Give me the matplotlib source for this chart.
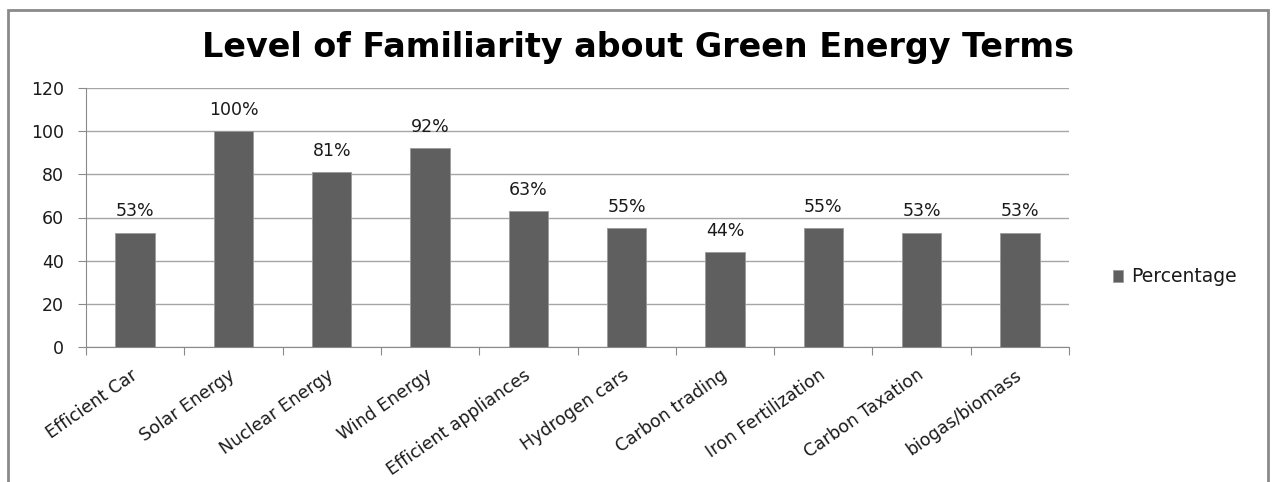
import matplotlib.pyplot as plt
from matplotlib.patches import Rectangle
from matplotlib.transforms import ScaledTranslation

categories = ['Efficient Car', 'Solar Energy', 'Nuclear Energy', 'Wind Energy',
              'Efficient appliances', 'Hydrogen cars', 'Carbon trading',
              'Iron Fertilization', 'Carbon Taxation', 'biogas/biomass']
percentages = [53, 100, 81, 92, 63, 55, 44, 55, 53, 53]
y_ticks = [0, 20, 40, 60, 80, 100, 120]

W, H = 1274, 482
plt.rcParams['font.family'] = ['DejaVu Sans']
txt_color = '#1a1a1a'

fig = plt.figure(figsize=(W / 100, H / 100), dpi=100)

# outer chart border (bottom edge runs off the image)
fig.patches.append(Rectangle((8 / W, -0.05), 1260 / W, 1.05 - 10 / H,
                             transform=fig.transFigure, fill=False,
                             edgecolor='#8a8a8a', linewidth=2))

ax = fig.add_axes([86 / W, (H - 347) / H, 983 / W, 259 / H])

x = range(len(categories))
bars = ax.bar(x, percentages, width=0.4, color='#5f5f5f', edgecolor='#9a9a9a',
              linewidth=0.6, label='Percentage', zorder=3)

for xi, v in zip(x, percentages):
    ax.annotate(f'{v}%', (xi, v), xytext=(0, 9), textcoords='offset points',
                ha='center', va='bottom', fontsize=12.5, color=txt_color)

ax.set_xlim(-0.5, len(categories) - 0.5)
ax.set_ylim(0, 120)
ax.set_yticks(y_ticks)
ax.tick_params(axis='y', length=6, color='#8a8a8a', labelsize=12.5,
               labelcolor=txt_color, pad=10)
ax.yaxis.grid(True, color='#a6a6a6', linewidth=1, zorder=0)

# ticks sit at category boundaries, labels at centres
ax.set_xticks([i - 0.5 for i in range(len(categories) + 1)])
ax.set_xticklabels([])
ax.set_xticks(list(x), minor=True)
ax.set_xticklabels(categories, minor=True, rotation=35, ha='right', va='center',
                   rotation_mode='anchor', fontsize=12.5, color=txt_color)
shift = ScaledTranslation(5 / 100, 0, fig.dpi_scale_trans)
for lbl in ax.get_xticklabels(minor=True):
    lbl.set_transform(lbl.get_transform() + shift)
ax.tick_params(axis='x', which='major', length=6, color='#8a8a8a', direction='out')
ax.tick_params(axis='x', which='minor', length=0, pad=19)

for side in ['top', 'right']:
    ax.spines[side].set_visible(False)
for side in ['left', 'bottom']:
    ax.spines[side].set_color('#8a8a8a')

fig.text(638 / W, 1 - 47 / H, 'Level of Familiarity about Green Energy Terms',
         ha='center', va='center', fontsize=24, fontweight='bold', color='black')

fig.legend(handles=[bars], labels=['Percentage'], loc='center left',
           bbox_to_anchor=(1096 / W, 1 - 277 / H), frameon=False,
           fontsize=13.5, handlelength=0.55, handleheight=0.55, handletextpad=0.4,
           labelcolor=txt_color)

fig.savefig('out.png', dpi=100)
